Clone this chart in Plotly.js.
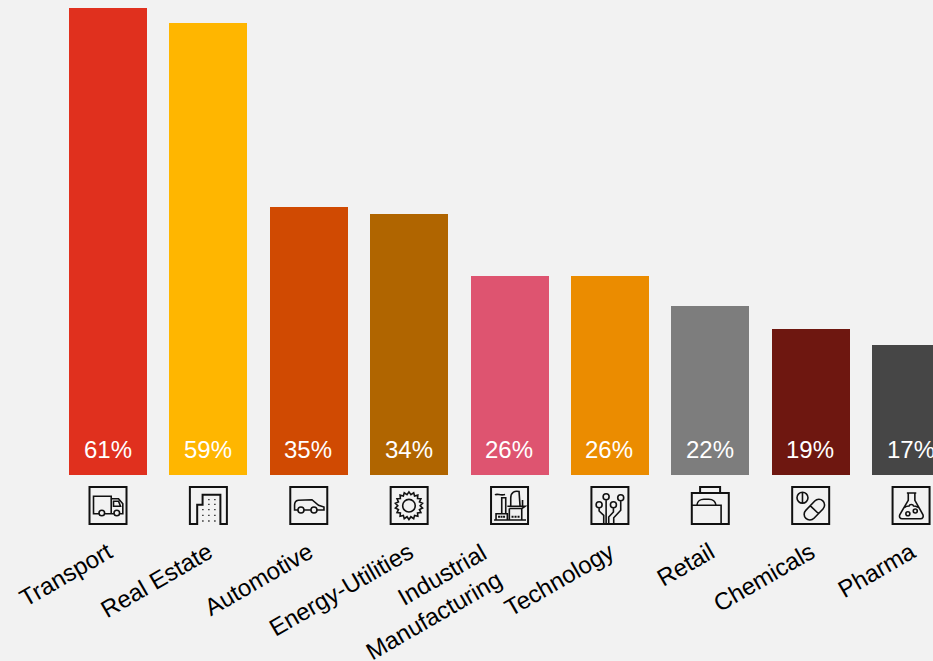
<!DOCTYPE html>
<html>
<head>
<meta charset="utf-8">
<script src="https://cdn.plot.ly/plotly-3.0.1.min.js"></script>
<style>html,body{margin:0;padding:0;background:#f2f2f2;overflow:hidden}</style>
</head>
<body>
<div id="chart" style="width:933px;height:661px"></div>
<script>
const categories = ['Transport', 'Real Estate', 'Automotive', 'Energy-Utilities', 'Industrial<br>Manufacturing', 'Technology', 'Retail', 'Chemicals', 'Pharma'];
const shares = [61, 59, 35, 34, 26, 26, 22, 19, 17];
const barColors = ['#E0301E', '#FFB600', '#D04A02', '#B06500', '#DE5470', '#EB8C00', '#7D7D7D', '#6E1710', '#464646'];
const positions = categories.map((_, i) => i);
const fontStack = '"Liberation Sans", Arial, sans-serif';
const labelAngle = -30;

// Circle as four cubic segments (shape paths take no arc command).
function ring(cx, cy, r) {
  const k = r * 0.5523;
  return `M${cx - r},${cy} C${cx - r},${cy - k} ${cx - k},${cy - r} ${cx},${cy - r} ` +
    `C${cx + k},${cy - r} ${cx + r},${cy - k} ${cx + r},${cy} ` +
    `C${cx + r},${cy + k} ${cx + k},${cy + r} ${cx},${cy + r} ` +
    `C${cx - k},${cy + r} ${cx - r},${cy + k} ${cx - r},${cy} Z `;
}
function dots(list, s) {
  return list.map(([x, y]) => `M${x - s},${y - s} L${x + s},${y - s} L${x + s},${y + s} L${x - s},${y + s} Z `).join('');
}
// Serrated wheel for the energy glyph.
function gear(cx, cy, ro, ri, teeth) {
  let d = '';
  for (let i = 0; i < teeth * 2; i++) {
    const a = Math.PI * i / teeth, r = i % 2 ? ri : ro;
    d += `${i ? 'L' : 'M'}${(cx + r * Math.sin(a)).toFixed(2)},${(cy - r * Math.cos(a)).toFixed(2)} `;
  }
  return d + 'Z ';
}
// Capsule between two end centres.
function capsule(x1, y1, x2, y2, r) {
  const len = Math.hypot(x2 - x1, y2 - y1), ux = (x2 - x1) / len, uy = (y2 - y1) / len, nx = -uy * r, ny = ux * r;
  const k = 0.5523, ax = ux * r, ay = uy * r;
  return `M${x1 + nx},${y1 + ny} L${x2 + nx},${y2 + ny} ` +
    `C${x2 + nx + k * ax},${y2 + ny + k * ay} ${x2 + ax + k * nx},${y2 + ay + k * ny} ${x2 + ax},${y2 + ay} ` +
    `C${x2 + ax - k * nx},${y2 + ay - k * ny} ${x2 - nx + k * ax},${y2 - ny + k * ay} ${x2 - nx},${y2 - ny} ` +
    `L${x1 - nx},${y1 - ny} ` +
    `C${x1 - nx - k * ax},${y1 - ny - k * ay} ${x1 - ax - k * nx},${y1 - ay - k * ny} ${x1 - ax},${y1 - ay} ` +
    `C${x1 - ax + k * nx},${y1 - ay + k * ny} ${x1 + nx - k * ax},${y1 + ny - k * ay} ${x1 + nx},${y1 + ny} Z `;
}

const frame = 'M0,0 L37,0 L37,37 L0,37 Z ';
// Category glyphs on a 37-unit square with y pointing down: outer frame, inner lines, solid specks.
const glyphFrames = [
  frame,
  'M0,37 L0,0 L37,0 L37,37 L30.5,37 L30.5,7.7 L12.7,7.7 L12.7,17.7 L7.3,17.7 L7.3,37 Z ',
  frame, frame, frame, frame,
  'M8.3,6 L8.3,0 L28.3,0 L28.3,6 M0,6 L37,6 L37,37 L0,37 Z ',
  frame, frame
];
const glyphLines = [
  // truck
  'M9.5,26.7 L4,26.7 L4,9.3 L21.7,9.3 L21.7,26.7 L15.1,26.7 M21.7,11.7 L29,11.7 L33.3,16.7 L33.3,26.7 L30.1,26.7 M24.5,26.7 L21.7,26.7 M24,14.3 L29,14.3 L31,19.3 L24,19.3 Z ' +
    ring(12.3, 26, 2.8) + ring(27.3, 26, 2.8),
  '',
  // estate car
  'M7.7,23 L4.3,23 L4.3,18 C4.3,15 6,13.5 8,13.2 L21.7,12.7 L28.3,18.3 L33.7,20 L33.7,23 L26.7,23 M13.7,23 L20.7,23 ' +
    ring(10.7, 23, 3) + ring(23.7, 23, 3),
  // sun wheel
  gear(18.3, 18.7, 13.8, 11.2, 18) + ring(18.3, 18.7, 6.3),
  // plant
  'M4,8 C6,6 9,9 14,7.5 M10.7,26.7 L10.7,10.7 L14.7,10.7 L14.7,26.7 M3,33 L35,33 M5,33 L5,26.7 L16.3,26.7 L16.3,33 ' +
    'M16.3,19.3 L34,19.3 L30.7,21.5 L30.7,33 M18.3,21.5 L18.3,33 M18.3,21.5 L30.7,21.5 M19.7,19 L19.7,11 C19.7,5 24,3.5 28,4.5 L29,19 M31.5,19 L31.5,13 ',
  // circuit traces
  ring(7.7, 17.7, 3) + ring(14.7, 9.7, 3) + ring(22, 17.7, 3) + ring(29.3, 10.7, 3) +
    'M7.7,20.7 L7.7,24 L12.3,28.3 L12.3,37 M14.7,12.7 L14.7,37 M22,20.7 L22,25 L17.3,30 L17.3,37 M29.3,13.7 L29.3,23.3 L22.3,30.7 L22.3,37',
  // shop bag
  'M0,18.3 L29.3,18.3 L29.3,37 M5,18.3 C5.5,14 9,12.3 12,12.3 L17,12.3 C20.5,12.3 23.5,14 24.3,18.3',
  // pill and capsule
  ring(10.3, 10.7, 5.5) + 'M10.3,5.2 L10.3,16.2 ' + capsule(17.7, 27.3, 26.7, 18, 5.7) + 'M18.2,18.9 L26.2,26.5',
  // flask
  'M14.3,6 L23.7,6 M15.7,6 L15.7,13.3 L7.3,27.5 C6.3,30 7.5,31.7 9.5,31.7 L28,31.7 C30,31.7 31.2,30 30.3,27.5 L22.3,13.3 L22.3,6 ' +
    'M11.7,20.5 C14,19 15.5,19 16.5,19 C17,17 20.5,17 21,19 C23,19 24.5,19.8 26,20.5 ' + ring(15.3, 26.7, 2) + ring(22.7, 24, 2)
];
const glyphSpecks = [
  '',
  dots([[19, 12.7], [25, 12.7], [19, 17.3], [25, 17.3], [13, 22.7], [19, 22.7], [25, 22.7], [13, 28.3], [19, 28.3], [25, 28.3], [13, 34], [19, 34], [25, 34]], 0.65),
  '', '',
  dots([[8, 29.8], [10.5, 29.8], [13, 29.8], [21.5, 29.8], [24.5, 29.8], [27.5, 29.8]], 1),
  '', '', '', ''
];

// Map glyph units onto pixel offsets from the foot of each bar.
const glyphTop = 12, half = 18.5;
function placeGlyph(d) {
  let n = 0;
  return d.replace(/-?\d+(\.\d+)?/g, v => {
    const out = n % 2 === 0 ? +v - half : -(+v + glyphTop);
    n++;
    return out.toFixed(2);
  });
}
function glyphShape(d, i, lineWidth) {
  return {
    type: 'path',
    xref: 'x', xsizemode: 'pixel', xanchor: i,
    yref: 'paper', ysizemode: 'pixel', yanchor: 0,
    path: placeGlyph(d),
    line: {color: '#111111', width: lineWidth},
    fillcolor: lineWidth ? 'rgba(0,0,0,0)' : '#111111',
    layer: 'above'
  };
}
const glyphShapes = [
  ...glyphFrames.map((d, i) => glyphShape(d, i, 2)),
  ...glyphLines.map((d, i) => d && glyphShape(d, i, 1.6)).filter(Boolean),
  ...glyphSpecks.map((d, i) => d && glyphShape(d, i, 0)).filter(Boolean)
];

const shareLabels = shares.map((v, i) => ({
  x: i, y: 0, xref: 'x', yref: 'y',
  yanchor: 'bottom', xanchor: 'center', yshift: 10, xshift: -0.5,
  text: v + '%', showarrow: false,
  font: {family: fontStack, size: 24, color: '#ffffff'}
}));

// The two-line category sits better as a right-aligned annotation than as a tick label.
const twoLine = categories.findIndex(c => c.includes('<br>'));
const twoLineLabel = {
  x: twoLine, y: 0, xref: 'x', yref: 'paper',
  xanchor: 'center', yanchor: 'middle', xshift: -84, yshift: -127,
  text: categories[twoLine], align: 'right', showarrow: false, textangle: labelAngle,
  font: {family: fontStack, size: 24, color: '#000000'}
};

Plotly.newPlot('chart', [{
  type: 'bar',
  x: positions,
  y: shares,
  width: 0.777,
  marker: {color: barColors, line: {width: 0}},
  hoverinfo: 'skip'
}], {
  width: 933,
  height: 661,
  showlegend: false,
  paper_bgcolor: '#f2f2f2',
  plot_bgcolor: '#f2f2f2',
  font: {family: fontStack, color: '#000000'},
  margin: {l: 0, r: 0, t: 0, b: 186, pad: 0},
  bargap: 0,
  xaxis: {
    range: [-1.076, 8.2185],
    tickmode: 'array',
    tickvals: positions,
    ticktext: categories.map((c, i) => i === twoLine ? ' ' : c),
    tickangle: labelAngle,
    ticks: '',
    ticklabelstandoff: 58,
    tickfont: {size: 24, color: '#000000'},
    showgrid: false, zeroline: false, showline: false, automargin: false
  },
  yaxis: {range: [0, 61.985], visible: false, fixedrange: true},
  shapes: glyphShapes,
  annotations: [...shareLabels, twoLineLabel]
}, {staticPlot: true, displayModeBar: false});
</script>
</body>
</html>
